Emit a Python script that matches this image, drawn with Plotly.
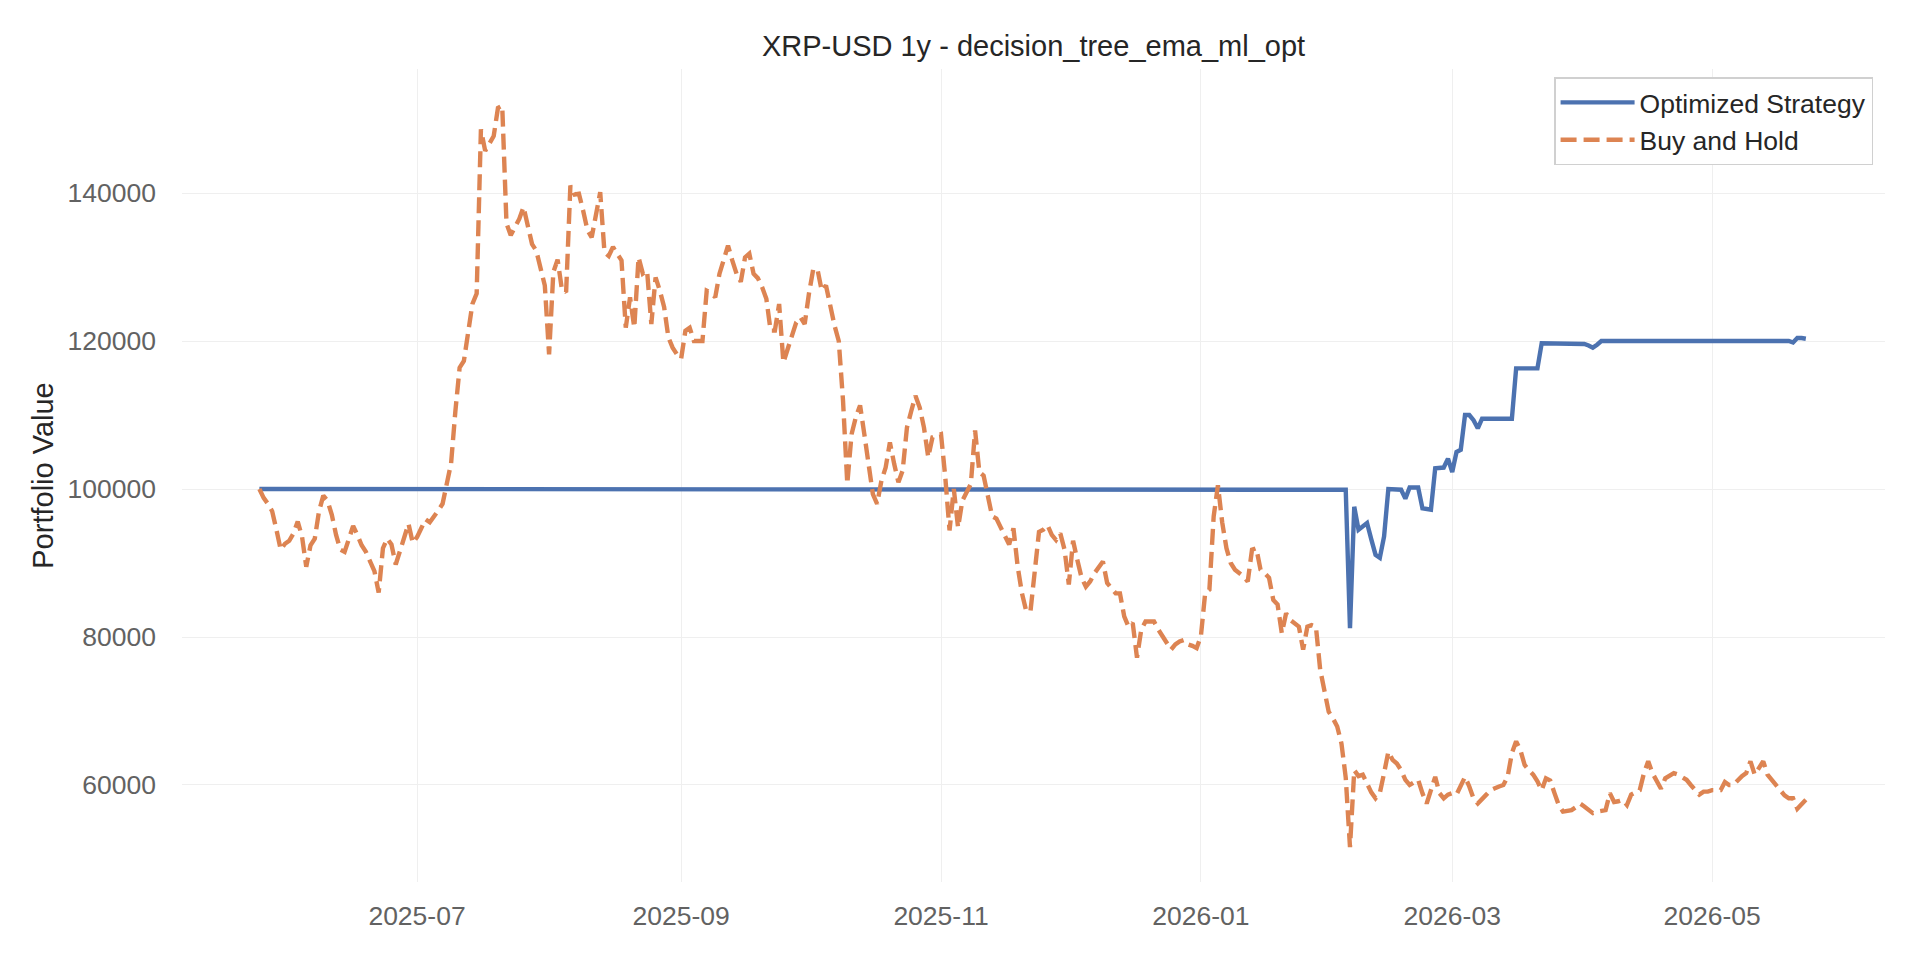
import pandas as pd
import plotly.graph_objects as go

start_date = "2025-05-25"

# Buy and Hold portfolio value, one value per day
buy_hold = [
    100000, 98800, 98000, 97000, 94500, 91800, 92600, 93000, 94000, 95600,
    93600, 89500, 92400, 93300, 97000, 99100, 98400, 96500, 93800, 91800,
    91500, 93500, 95000, 93800, 92400, 91500, 90000, 88900, 86000, 92000,
    93300, 92500, 89800, 91800, 93500, 95300, 92700, 93500, 94700, 95900,
    95500, 96200, 97100, 98000, 100600, 103500, 110500, 116400, 117300, 121700,
    125000, 126400, 148600, 145700, 146600, 147700, 151500, 151800, 135900, 134300,
    135400, 136500, 138100, 135700, 133100, 132200, 130000, 127500, 118200, 129300,
    131000, 127000, 126600, 141000, 139800, 139900, 137600, 135000, 134000, 136700,
    140100, 132000, 131500, 132700, 131800, 130900, 121800, 125900, 121800, 131300,
    129100, 129500, 122300, 128600, 126800, 124600, 120500, 119100, 118200, 117600,
    121400, 121800, 120000, 120000, 120000, 126800, 126500, 125900, 129100, 131000,
    132900, 130900, 129100, 128000, 131300, 131800, 129100, 128500, 127300, 125700,
    121400, 121400, 125000, 117100, 118900, 121000, 122500, 123200, 122300, 126400,
    129700, 129700, 126800, 127500, 124600, 122100, 120000, 111900, 100700, 107400,
    109700, 111300, 107400, 102900, 99300, 98000, 101100, 102900, 106300, 103400,
    100900, 102500, 108300, 110500, 112600, 111000, 108300, 104300, 107000, 107200,
    107400, 101600, 94400, 100000, 94800, 98400, 99500, 100700, 107900, 102300,
    101800, 99000, 96300, 96000, 94900, 93500, 92500, 94700, 89500, 85900,
    83500, 83500, 89100, 94200, 94500, 95100, 93800, 93100, 94000, 91800,
    87100, 93000, 90400, 88000, 86800, 87500, 88600, 89500, 90200, 87300,
    86500, 85900, 85900, 82800, 81400, 81900, 77200, 81000, 82100, 82100,
    82100, 81000, 80100, 79200, 78300, 79000, 79400, 79600, 79000, 78800,
    78500, 80100, 85900, 86400, 96300, 100500, 95500, 92000, 90000, 89100,
    88700, 88200, 87500, 91800, 92000, 89100, 88600, 88000, 85000, 84400,
    80500, 83200, 82300, 81900, 81400, 78300, 81400, 81600, 81400, 75600,
    72400, 69900, 69000, 67900, 65600, 61000, 51600, 62000, 61200, 61400,
    60200, 59000, 58200, 58900, 61600, 64500, 63400, 62900, 62000, 60700,
    60000, 60300, 60700, 58900, 57500, 59300, 61100, 58900, 58200, 58700,
    58900, 58700, 59800, 61100, 59800, 58200, 57500, 58200, 58700, 59300,
    59600, 59800, 60000, 61100, 64300, 65900, 64700, 62700, 62000, 61400,
    60500, 59300, 60900, 60600, 58900, 57300, 56400, 56500, 56600, 57000,
    57500, 57100, 56700, 56200, 56400, 56500, 56600, 58900, 57700, 57800,
    58000, 57300, 58700, 59000, 59300, 61600, 63200, 61600, 60500, 59500,
    60900, 61300, 61600, 61400, 61000, 60700, 60000, 59400, 58700, 59100,
    59100, 59300, 59300, 59300, 60400, 60000, 60000, 60700, 61200, 61600,
    63200, 61400, 62300, 63200, 61400, 60700, 60000, 59100, 58600, 58200,
    58200, 56800, 57400, 58000,
]

# Optimized Strategy portfolio value (flat while out of the market)
strategy = (
    [100000] * 255
    + [99900, 81200, 97600, 94500, 95000, 95400, 93200, 91100, 90700, 93600,
       100000, 100000, 99900, 99900, 98700, 100200, 100200, 100200, 97400, 97300,
       97200, 102800, 102900, 102900, 104100, 102300, 105000, 105300, 110000, 110000,
       109300, 108200, 109500, 109500, 109500, 109500, 109500, 109500, 109500, 109500,
       116300, 116300, 116300, 116300, 116300, 116300, 119700, 119700, 119700, 119700,
       119700, 119700, 119700, 119700, 119700, 119700, 119600, 119400, 119100, 119500]
    + [120000] * 45
    + [119800, 120400, 120400, 120300]
)

dates = pd.date_range(start_date, periods=len(buy_hold), freq="D")

FONT = "Liberation Sans, Arial, sans-serif"

# the page body adds an 8px offset, so margins are shifted to compensate
fig = go.Figure()
fig.add_trace(go.Scatter(x=dates, y=strategy, mode="lines", name="Optimized Strategy",
                         line=dict(color="#4C72B0", width=4.4)))
fig.add_trace(go.Scatter(x=dates, y=buy_hold, mode="lines", name="Buy and Hold",
                         line=dict(color="#DD8452", width=4.4, dash="16px,7px")))

fig.update_layout(
    width=1920, height=960,
    margin=dict(l=174, r=43, t=61, b=86),
    paper_bgcolor="white", plot_bgcolor="white",
    font=dict(family=FONT, size=26.5, color="#626262"),
    title=dict(text="XRP-USD 1y - decision_tree_ema_ml_opt", x=(174 + 1877) / 2 / 1920, xanchor="center",
               y=1 - 38 / 960, yanchor="middle", font=dict(size=29, color="#262626")),
    legend=dict(x=0.993, xanchor="right", y=0.99, yanchor="top", itemwidth=74,
                bgcolor="white", bordercolor="#d0d0d0", borderwidth=1.5,
                font=dict(size=26.5, color="#262626")),
    showlegend=True,
)
fig.update_xaxes(type="date", range=["2025-05-06 20:00", "2026-06-10 14:00"],
                 tick0="2025-07-01", dtick="M2", tickformat="%Y-%m", automargin=False,
                 showgrid=True, gridcolor="#efefef", gridwidth=1.3,
                 showline=False, zeroline=False, ticks="", ticklabelstandoff=15)
fig.update_yaxes(range=[46890, 156760], dtick=20000, tickformat="d", automargin=False,
                 showgrid=True, gridcolor="#efefef", gridwidth=1.3,
                 showline=False, zeroline=False, ticks="", ticklabelstandoff=25,
                 title=dict(text="Portfolio Value", font=dict(size=29, color="#262626"), standoff=5))

fig.write_html("out.html")
